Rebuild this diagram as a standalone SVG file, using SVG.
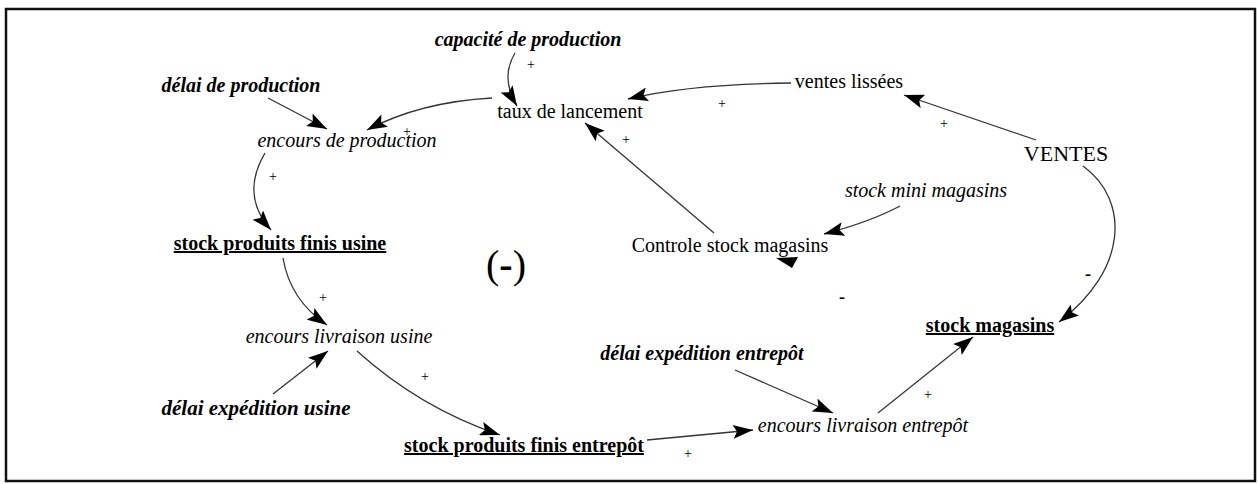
<svg xmlns="http://www.w3.org/2000/svg" width="1259" height="484" viewBox="0 0 1259 484">
<defs>
<marker id="ah" markerUnits="userSpaceOnUse" markerWidth="22" markerHeight="14" viewBox="0 0 22 14" refX="20" refY="7" orient="auto">
<path d="M0,0 L20,7 L0,14 L4,7 Z" fill="#000"/>
</marker>
</defs>
<style>
text{font-family:"Liberation Serif","Times New Roman",serif;font-size:20px;fill:#000;text-anchor:middle}
.bi{font-weight:bold;font-style:italic}
.i{font-style:italic}
.bu{font-weight:bold;text-decoration:underline}
.sg{font-size:14px}
.mn{font-size:18px;font-weight:bold}
.conn path{fill:none;stroke:#333;stroke-width:1.3;marker-end:url(#ah)}
.frame{fill:none;stroke:#111;stroke-width:2.5}
</style>
<rect class="frame" x="6" y="9" width="1249" height="472"/>
<g id="connectors" class="conn">
<path id="c1" d="M515,53 Q500,78 517,106"/>
<path id="c2" d="M268,98 L327,129"/>
<path id="c3" d="M492,98 Q420,102 367,130"/>
<path id="c4" d="M791,83 Q690,84 628,99"/>
<path id="c5" d="M1036,140 L904,95"/>
<path id="c6" d="M1083,166 C1130,200 1128,270 1059,322"/>
<path id="c7" d="M900,206 Q870,222 824,234"/>
<path id="c8" d="M714,233 L585,123"/>
<path id="c9" d="M265,153 Q240,195 271,230"/>
<path id="c10" d="M283,258 Q290,300 327,325"/>
<path id="c11" d="M273,394 L328,351"/>
<path id="c12" d="M357,351 Q420,408 500,435"/>
<path id="c13" d="M647,440 L753,430"/>
<path id="c14" d="M735,370 L833,413"/>
<path id="c15" d="M878,413 L973,337"/>
<polygon id="lone-head" points="776,258 798,257 792,268" fill="#000"/>
</g>
<g id="signs">
<text class="sg" x="531" y="69">+</text>
<text class="sg" x="407" y="136">+</text>
<text class="sg" x="273" y="181">+</text>
<text class="sg" x="323" y="302">+</text>
<text class="sg" x="425" y="381">+</text>
<text class="sg" x="688" y="458">+</text>
<text class="sg" x="928" y="399">+</text>
<text class="sg" x="722" y="108">+</text>
<text class="sg" x="944" y="128">+</text>
<text class="sg" x="626" y="144">+</text>
<text class="mn" x="842" y="303">-</text>
<text class="mn" x="1088" y="280">-</text>
</g>
<g id="n-capacite"><text class="bi" x="528" y="46">capacité de production</text></g>
<g id="n-delai-prod"><text class="bi" x="241" y="92">délai de production</text></g>
<g id="n-taux"><text x="570" y="118">taux de lancement</text></g>
<g id="n-encours-prod"><text class="i" x="347" y="147">encours de production</text></g>
<g id="n-ventes-lissees"><text x="849" y="88">ventes lissées</text></g>
<g id="n-ventes"><text x="1066" y="161" style="font-size:22px">VENTES</text></g>
<g id="n-stock-mini"><text class="i" x="926" y="197">stock mini magasins</text></g>
<g id="n-controle"><text x="730" y="252">Controle stock magasins</text></g>
<g id="n-spf-usine"><text class="bu" x="280" y="250">stock produits finis usine</text></g>
<g id="n-loop"><text x="506" y="278" style="font-size:40px">(<tspan style="font-weight:bold">-</tspan>)</text></g>
<g id="n-encours-liv-usine"><text class="i" x="339" y="343">encours livraison usine</text></g>
<g id="n-delai-exp-usine"><text class="bi" x="256" y="415" style="font-size:21px">délai expédition usine</text></g>
<g id="n-spf-entrepot"><text class="bu" x="524" y="452">stock produits finis entrepôt</text></g>
<g id="n-delai-exp-entrepot"><text class="bi" x="702" y="360">délai expédition entrepôt</text></g>
<g id="n-encours-liv-entrepot"><text class="i" x="863" y="432">encours livraison entrepôt</text></g>
<g id="n-stock-magasins"><text class="bu" x="990" y="332">stock magasins</text></g>
</svg>
